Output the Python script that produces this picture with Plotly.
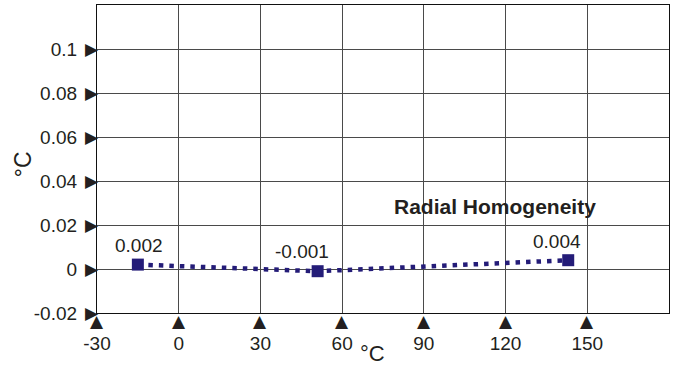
import plotly.graph_objects as go

temps = [-15, 51, 143]
homogeneity = [0.002, -0.001, 0.004]
value_labels = ["0.002", "-0.001", "0.004"]
series_name = "Radial Homogeneity"

x_ticks = [-30, 0, 30, 60, 90, 120, 150]
x_ticklabels = ["-30", "0", "30", "60", "90", "120", "150"]
y_ticks = [-0.02, 0, 0.02, 0.04, 0.06, 0.08, 0.1]
y_ticklabels = ["-0.02", "0", "0.02", "0.04", "0.06", "0.08", "0.1"]

x_range = [-30, 180]
y_range = [-0.02, 0.12]

navy = "#241c78"
ink = "#231f20"
font = "Liberation Sans, Arial, sans-serif"
tri_font = "DejaVu Sans"

fig = go.Figure()
fig.add_trace(go.Scatter(
    x=temps, y=homogeneity, mode="lines+markers",
    line=dict(color=navy, width=4.5, dash="4.5px,6px"),
    marker=dict(symbol="square", size=12, color=navy),
    showlegend=False, cliponaxis=False,
))

label_xshift = [1, -16, -11]
label_yshift = [19, 20, 19]
for xv, yv, t, sx, sy in zip(temps, homogeneity, value_labels, label_xshift, label_yshift):
    fig.add_annotation(x=xv, y=yv, text=t, showarrow=False, xshift=sx, yshift=sy,
                       font=dict(family=font, size=19, color=ink))

fig.add_annotation(x=116.3, y=0.0285, text="<b>" + series_name + "</b>", showarrow=False,
                   font=dict(family=font, size=21, color=ink))

# tick triangles (▶ beside the y labels, ▲ below the x labels)
for v in y_ticks:
    fig.add_annotation(x=x_range[0], y=v, text="▶", showarrow=False, xanchor="right",
                       xshift=3, borderpad=0, font=dict(family=tri_font, size=17, color=ink))
for v in x_ticks:
    fig.add_annotation(x=v, y=y_range[0], text="▲", showarrow=False, yanchor="top",
                       yshift=3, borderpad=0, font=dict(family=tri_font, size=17, color=ink))

# axis titles
fig.add_annotation(xref="paper", yref="paper", x=0.481, y=-0.176, text="°C", showarrow=False,
                   xanchor="center", yanchor="bottom", borderpad=0,
                   font=dict(family=font, size=22, color=ink))
fig.add_annotation(xref="paper", yref="paper", x=-0.129, y=0.484, text="°C", showarrow=False,
                   xanchor="center", yanchor="middle", textangle=-90,
                   font=dict(family=font, size=23, color=ink))

fig.update_xaxes(
    range=x_range, tickmode="array", tickvals=x_ticks, ticktext=x_ticklabels,
    showgrid=True, gridcolor="#4a4a4a", gridwidth=1.2,
    showline=True, linecolor="#111", linewidth=1.3, mirror=True,
    zeroline=False, ticks="", ticklabelstandoff=13, automargin=False,
    tickfont=dict(family=font, size=19, color=ink),
)
fig.update_yaxes(
    range=y_range, tickmode="array", tickvals=y_ticks, ticktext=y_ticklabels,
    showgrid=True, gridcolor="#4a4a4a", gridwidth=1.2,
    showline=True, linecolor="#111", linewidth=1.3, mirror=True,
    zeroline=False, ticks="", ticklabelstandoff=15, automargin=False,
    tickfont=dict(family=font, size=19, color=ink),
)
fig.update_layout(
    width=675, height=367,
    margin=dict(l=97, r=6, t=5, b=54, autoexpand=False),
    plot_bgcolor="white", paper_bgcolor="white",
)
fig.write_html("out.html", config={"displayModeBar": False},
               post_script="document.body.style.margin='0';document.body.style.overflow='hidden';")
